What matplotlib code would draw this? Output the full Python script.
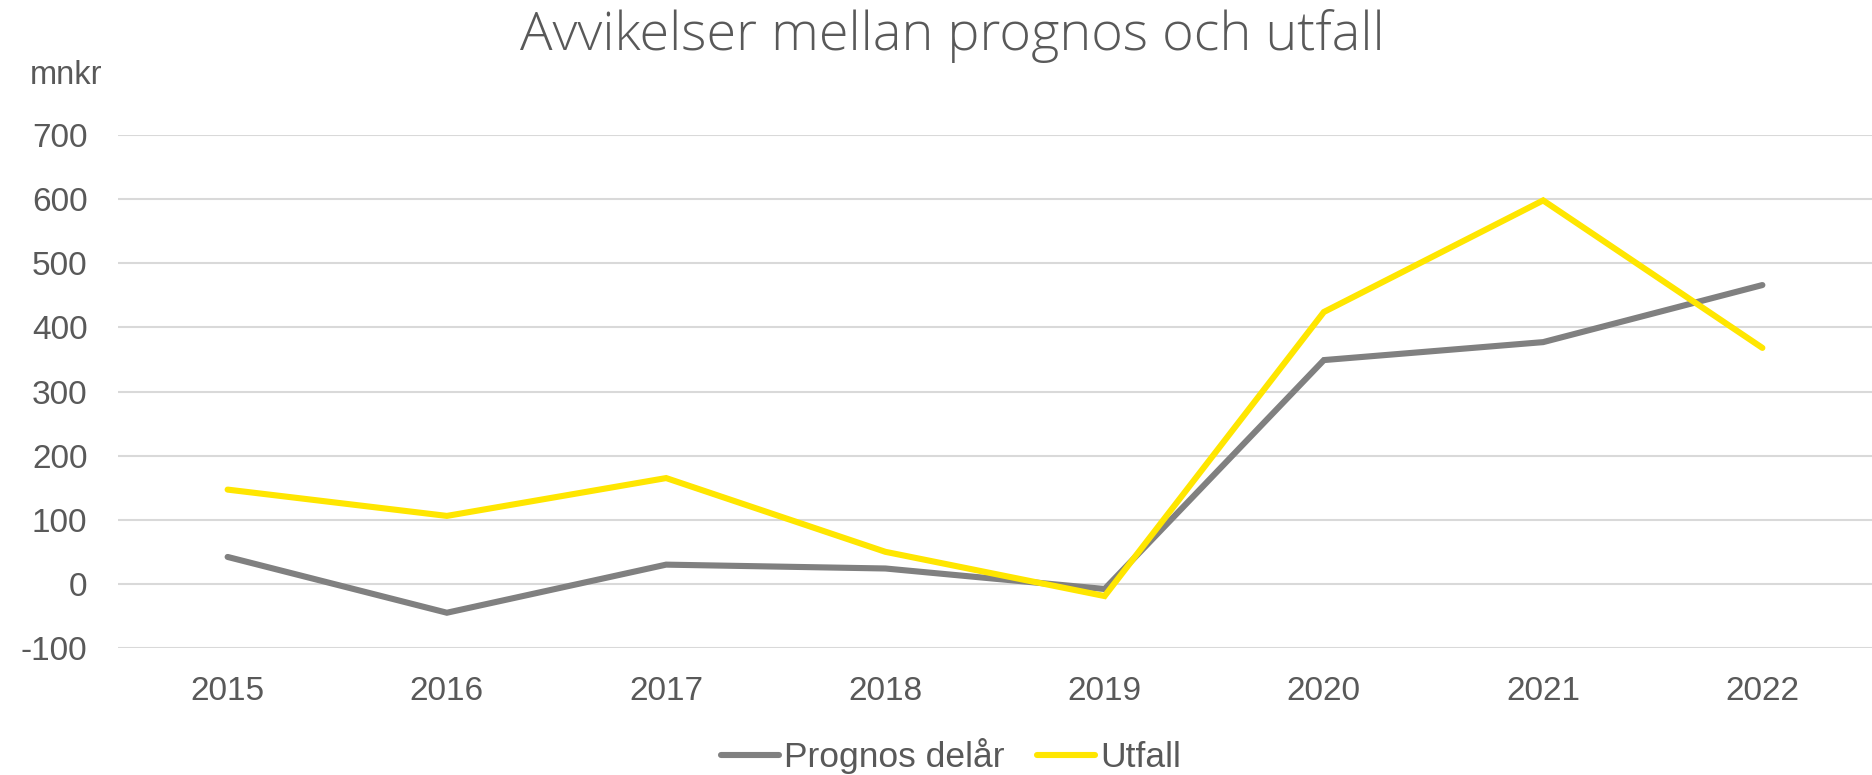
import matplotlib
matplotlib.use("Agg")
import matplotlib.pyplot as plt

years = ["2015", "2016", "2017", "2018", "2019", "2020", "2021", "2022"]
prognos = [42, -45, 30, 24, -8, 349, 377, 466]
utfall = [147, 106, 165, 50, -19, 424, 598, 368]
yticks = [-100, 0, 100, 200, 300, 400, 500, 600, 700]

regular = "Liberation Sans"
title_font = "Open Sans"
txt = "#595959"

fig = plt.figure(figsize=(18.72, 7.75), dpi=100)
ax = fig.add_axes([118/1872, 1-648/775, 1-118/1872, (648-135)/775])
x = list(range(len(years)))
ax.plot(x, prognos, color="#808080", lw=4.4, solid_capstyle="round", solid_joinstyle="miter", label="Prognos delår", zorder=3)
ax.plot(x, utfall, color="#FFE600", lw=4.4, solid_capstyle="round", solid_joinstyle="miter", label="Utfall", zorder=3)
ax.set_xlim(-0.5, len(years)-0.5)
ax.set_ylim(-100, 700)
ax.set_yticks(yticks)
ax.set_yticklabels([str(v) for v in yticks], fontfamily=regular, fontsize=24, color=txt)
ax.set_xticks(x)
ax.set_xticklabels(years, fontfamily=regular, fontsize=24, color=txt)
ax.tick_params(axis="both", length=0)
ax.tick_params(axis="y", pad=22)
ax.tick_params(axis="x", pad=20)
ax.grid(axis="y", color="#D9D9D9", lw=1.5)
ax.set_axisbelow(True)
for s in ax.spines.values():
    s.set_visible(False)

fig.text(952/1872, 1-50/775, "Avvikelser mellan prognos och utfall", ha="center", va="baseline",
         fontfamily=title_font, fontweight="light", fontsize=39, color=txt)
fig.text(30/1872, 1-75/775, "mnkr", ha="left", va="center", fontfamily=regular, fontsize=23.5, color=txt)

leg = fig.legend(loc="center", bbox_to_anchor=(951/1872, 1-756/775), ncol=2, frameon=False,
                 prop={"family": regular, "size": 25.5}, handlelength=1.65, handletextpad=0.15, columnspacing=0.9)
for t in leg.get_texts():
    t.set_color(txt)

fig.savefig("out.png", dpi=100, facecolor="white")
